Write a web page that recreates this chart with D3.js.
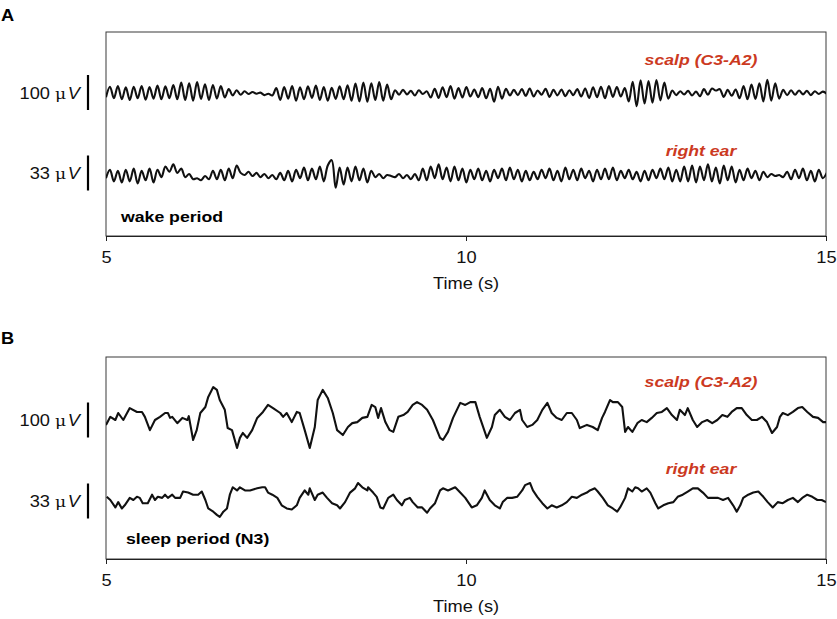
<!DOCTYPE html>
<html><head><meta charset="utf-8">
<script src="https://cdn.jsdelivr.net/npm/d3@7"></script>
<style>body{margin:0;background:#fff}svg{display:block}</style>
</head><body>
<svg id="c" width="837" height="619"></svg>
<script>
// ---------------- data ----------------
const timeTicks = [5, 10, 15];
const timeDomain = [5, 15];
const panelNames = ["A", "B"];
const periodLabels = ["wake period", "sleep period (N3)"];
const channelLabels = ["scalp (C3-A2)", "right ear"];
const scaleBarValues = [100, 33];           // µV
const scaleBarUnits = ["100 ", "33 "];
const wakeDt = 0.055;                       // s between wake samples (from t = 5 s)

// wake period, scalp (µV)
const wakeScalp = [
 -12,18,-15,20,-18,16,-20,18,-15,20,-19,17,-16,21,-18,19,-15,23,
 -18,30,-20,28,-22,31,-17,25,-20,23,-16,20,-13,
 11,-7,8,-5,5,-3,3,-2,1,-6,-2,-7,
 14,-20,17,-16,20,-22,16,-18,19,-14,21,-20,17,-22,15,-17,19,-18,22,
 -22,27,-24,30,-25,28,-20,31,-22,24,-18,
 8,-5,9,-4,6,-7,8,-3,5,
 -13,12,-14,16,-12,20,-16,14,-13,17,
 -10,10,-12,14,-15,12,-25,18,-16,12,
 -7,9,-6,11,-8,13,-10,7,-5,12,-11,9,-7,10,-9,8,-6,11,-10,13,
 -14,16,-12,18,-15,20,-11,17,-10,14,
 -24,32,-38,36,-30,34,-28,37,-21,30,
 -16,7,-6,5,-4,6,-7,4,
 -9,11,-5,13,7,11,-11,9,-8,10,
 -15,20,-18,24,-17,28,-24,38,-22,28,-16,
 9,-6,8,-5,7,-4,6,-6,5,-3,4,-2
];
// wake period, right ear (µV)
const wakeEar = [
 -3,5,-6,4,-7,5,-6,6,-8,4,-5,6,-7,5,
 -2,8,3,10,2,
 6,-2,1,-4,-3,-5,-1,-4,
 4,-4,5,-5,6,-3,9,
 2,0,3,-1,2,-2,1,-3,0,-4,2,
 -5,4,-6,5,-3,7,-5,6,-4,8,-6,9,
 14,-12,7,
 -9,7,-6,8,-5,6,-7,
 4,-2,1,-3,0,-1,-2,1,-3,0,-4,1,-5,
 6,-5,8,-3,10,-4,7,-6,8,-5,6,-7,
 5,-4,6,-5,4,-6,5,-3,6,-5,7,-4,5,-6,4,-5,3,-4,5,-3,6,-5,4,-6,7,-4,5,-5,6,-3,4,-6,5,
 -4,6,-4,7,-5,4,-3,5,-4,3,-6,4,-5,5,-3,6,-4,7,-6,5,
 -6,8,-6,9,-7,8,-5,10,-6,7,-8,9,-5,8,-7,
 5,-5,6,-3,4,-5,3,-2,1,-1,0,-2,3,-4,5,-3,6,-5,4,-6,5,-3,2
];
// sleep period (N3), scalp: [time s, µV]
const sleepScalp = [[5.00,-14],[5.06,9],[5.13,0],[5.17,20],[5.24,0],[5.33,34],[5.43,23],[5.50,23],[5.54,9],[5.61,-29],[5.68,0],[5.75,9],[5.82,20],[5.86,20],[5.89,6],[5.92,9],[5.99,-9],[6.06,6],[6.13,0],[6.15,11],[6.21,-57],[6.26,-29],[6.31,20],[6.38,37],[6.42,66],[6.49,94],[6.54,86],[6.58,57],[6.65,29],[6.69,-23],[6.75,-29],[6.82,-80],[6.86,-51],[6.90,-37],[6.96,-51],[7.03,-29],[7.10,6],[7.18,23],[7.25,43],[7.32,34],[7.42,20],[7.46,9],[7.51,20],[7.58,-6],[7.65,23],[7.69,20],[7.76,-29],[7.83,-80],[7.90,-20],[7.94,57],[8.01,86],[8.08,63],[8.15,20],[8.21,-29],[8.29,-43],[8.36,-20],[8.42,-9],[8.49,-6],[8.56,6],[8.63,9],[8.69,43],[8.74,37],[8.78,6],[8.82,34],[8.88,-6],[8.94,-29],[8.99,-34],[9.06,9],[9.13,14],[9.19,23],[9.26,43],[9.32,51],[9.39,43],[9.46,29],[9.54,0],[9.64,-51],[9.68,-57],[9.75,-34],[9.82,6],[9.92,49],[9.99,43],[10.06,51],[10.13,51],[10.19,9],[10.29,-51],[10.36,-20],[10.40,14],[10.47,29],[10.54,9],[10.61,0],[10.68,20],[10.75,29],[10.78,0],[10.85,-20],[10.92,-14],[10.99,0],[11.06,29],[11.13,49],[11.19,20],[11.26,6],[11.33,0],[11.40,20],[11.47,20],[11.54,0],[11.58,-23],[11.68,-14],[11.76,-20],[11.83,-29],[11.89,6],[11.93,23],[12.00,57],[12.04,51],[12.11,51],[12.17,37],[12.21,-34],[12.25,-20],[12.31,-34],[12.38,-9],[12.44,0],[12.51,-6],[12.58,6],[12.65,20],[12.72,23],[12.79,34],[12.86,14],[12.93,0],[12.97,29],[13.04,14],[13.08,34],[13.15,0],[13.21,-20],[13.28,-6],[13.35,0],[13.42,-9],[13.49,0],[13.56,14],[13.63,9],[13.69,23],[13.76,34],[13.83,34],[13.90,14],[13.97,0],[14.04,0],[14.11,9],[14.18,-6],[14.25,-37],[14.32,-20],[14.36,9],[14.40,20],[14.47,14],[14.54,23],[14.61,34],[14.67,37],[14.74,23],[14.82,9],[14.89,6],[14.96,-6],[15.00,-6]];
// sleep period (N3), right ear: [time s, µV]
const sleepEar = [[5.01,3],[5.06,0],[5.13,-7],[5.17,-2],[5.22,-8],[5.26,-5],[5.33,2],[5.38,0],[5.43,3],[5.47,2],[5.51,-3],[5.58,-3],[5.64,5],[5.68,0],[5.72,3],[5.78,2],[5.82,5],[5.86,2],[5.92,5],[5.96,2],[6.03,2],[6.07,8],[6.14,7],[6.21,5],[6.28,5],[6.33,8],[6.38,0],[6.42,-8],[6.49,-11],[6.54,-14],[6.58,-16],[6.63,-11],[6.68,-8],[6.72,5],[6.76,12],[6.82,9],[6.86,12],[6.93,9],[7.00,9],[7.10,11],[7.17,12],[7.21,12],[7.25,7],[7.31,5],[7.38,2],[7.44,-5],[7.51,-8],[7.58,-9],[7.65,-5],[7.69,2],[7.76,9],[7.81,5],[7.83,11],[7.90,0],[7.94,5],[8.01,7],[8.07,2],[8.14,-3],[8.21,-5],[8.25,-8],[8.32,-2],[8.39,7],[8.46,11],[8.50,16],[8.56,12],[8.63,9],[8.64,12],[8.71,7],[8.76,3],[8.81,-7],[8.85,-8],[8.92,2],[8.99,5],[9.04,0],[9.11,-5],[9.15,0],[9.22,2],[9.26,-2],[9.33,-7],[9.39,-7],[9.46,-12],[9.50,-8],[9.57,-3],[9.64,9],[9.68,11],[9.75,9],[9.85,12],[9.92,7],[9.99,2],[10.08,-7],[10.15,-5],[10.22,2],[10.26,9],[10.33,0],[10.40,-5],[10.47,-8],[10.51,-2],[10.57,2],[10.64,2],[10.71,3],[10.78,9],[10.82,14],[10.89,16],[10.93,9],[10.99,3],[11.06,-3],[11.13,-8],[11.19,-5],[11.26,-7],[11.33,-5],[11.40,-2],[11.47,3],[11.54,2],[11.61,5],[11.68,7],[11.72,9],[11.79,11],[11.83,8],[11.90,2],[11.97,-5],[12.04,-8],[12.10,-11],[12.14,-7],[12.21,2],[12.25,11],[12.31,8],[12.35,12],[12.39,11],[12.44,8],[12.51,11],[12.56,7],[12.63,-3],[12.67,-8],[12.74,-5],[12.81,-3],[12.88,-2],[12.94,3],[13.01,5],[13.08,8],[13.15,11],[13.22,11],[13.29,7],[13.36,2],[13.43,2],[13.50,2],[13.57,0],[13.64,2],[13.71,-5],[13.76,-11],[13.81,-5],[13.85,2],[13.92,5],[13.99,7],[14.06,8],[14.13,3],[14.19,-2],[14.26,-7],[14.33,-2],[14.40,-3],[14.47,0],[14.54,2],[14.61,-2],[14.67,2],[14.74,5],[14.81,3],[14.88,0],[14.94,0],[15.00,-2]];

// ---------------- drawing ----------------
const svg = d3.select("#c");
const FONT = "'Liberation Sans', Arial, Helvetica, sans-serif";
const RED = "#cc3a1f";
const SX = 1.14;                       // the reference's lettering is slightly wide
const left = 106, right = 826;
const x = d3.scaleLinear().domain(timeDomain).range([left, right]);

function label(g, tx, ty, txt, size, opts = {}) {
  const t = g.append("text").attr("transform", `translate(${tx},${ty}) scale(${SX},1)`)
    .attr("font-family", FONT).attr("font-size", size).attr("fill", opts.fill || "#111")
    .attr("text-anchor", opts.anchor || "start");
  if (opts.bold) t.attr("font-weight", "bold");
  if (opts.italic) t.attr("font-style", "italic");
  if (txt !== null) t.text(txt);
  return t;
}

const panels = [
  {name: panelNames[0], top: 32, bottom: 236, rowY: [93, 175], barY: [92.5, 173], labelY: [65, 156],
   period: periodLabels[0], periodX: 121, periodY: 222, letterY: 21,
   series: [wakeScalp.map((v, i) => [timeDomain[0] + i * wakeDt, v]), wakeEar.map((v, i) => [timeDomain[0] + i * wakeDt, v])],
   curve: d3.curveCatmullRom.alpha(0.5)},
  {name: panelNames[1], top: 357, bottom: 559, rowY: [420, 500], barY: [420, 501], labelY: [387, 474],
   period: periodLabels[1], periodX: 126, periodY: 544, letterY: 344,
   series: [sleepScalp, sleepEar], curve: d3.curveLinear}
];

panels.forEach((p, pi) => {
  const g = svg.append("g");
  const clipId = "clip" + pi;
  svg.append("clipPath").attr("id", clipId).append("rect")
    .attr("x", left).attr("y", p.top - 20).attr("width", right - left).attr("height", p.bottom - p.top + 40);

  label(g, 1, p.letterY, p.name, 16, {bold: true, fill: "#000"});

  g.append("rect").attr("x", left).attr("y", p.top).attr("width", right - left).attr("height", p.bottom - p.top)
    .attr("fill", "none").attr("stroke", "#3a3a3a").attr("stroke-width", 1);

  const ax = g.append("g").attr("transform", `translate(0,${p.bottom})`)
    .call(d3.axisBottom(x).tickValues(timeTicks).tickFormat(d3.format("d")).tickSize(5).tickSizeOuter(0).tickPadding(11));
  ax.select(".domain").attr("stroke", "#222");
  ax.selectAll(".tick line").attr("stroke", "#222");
  ax.selectAll(".tick text").attr("font-family", FONT).attr("font-size", 16).attr("fill", "#111")
    .attr("transform", `scale(${SX},1)`);
  label(g, (left + right) / 2, p.bottom + 53, "Time (s)", 16, {anchor: "middle"});

  p.series.forEach((data, k) => {
    const half = 35 / 2;               // scale bar length (px) / 2
    const y = d3.scaleLinear().domain([-scaleBarValues[k] / 2, scaleBarValues[k] / 2])
      .range([p.rowY[k] + half, p.rowY[k] - half]);
    const line = d3.line().x(d => x(d[0])).y(d => y(d[1])).curve(p.curve);
    g.append("path").datum(data).attr("d", line).attr("fill", "none").attr("clip-path", `url(#${clipId})`)
      .attr("stroke", "#111").attr("stroke-width", 2.1).attr("stroke-linejoin", "round");

    const yb = d3.scaleLinear().domain([-scaleBarValues[k] / 2, scaleBarValues[k] / 2])
      .range([p.barY[k] + half, p.barY[k] - half]);
    g.append("line").attr("x1", 88).attr("x2", 88)
      .attr("y1", yb(-scaleBarValues[k] / 2)).attr("y2", yb(scaleBarValues[k] / 2))
      .attr("stroke", "#000").attr("stroke-width", 2.2);
    const t = label(g, 80, p.barY[k] + 6, null, 16, {anchor: "end"});
    t.append("tspan").text(scaleBarUnits[k]);
    t.append("tspan").text("\u03bc").attr("font-family", "'DejaVu Serif', serif").attr("font-size", 15);
    t.append("tspan").text("V").attr("font-style", "italic").attr("dx", 1.5);

    label(g, 701, p.labelY[k], channelLabels[k], 15.5, {anchor: "middle", bold: true, italic: true, fill: RED});
  });

  label(g, p.periodX, p.periodY, p.period, 15.5, {bold: true, fill: "#000"});
});
</script>
</body></html>
